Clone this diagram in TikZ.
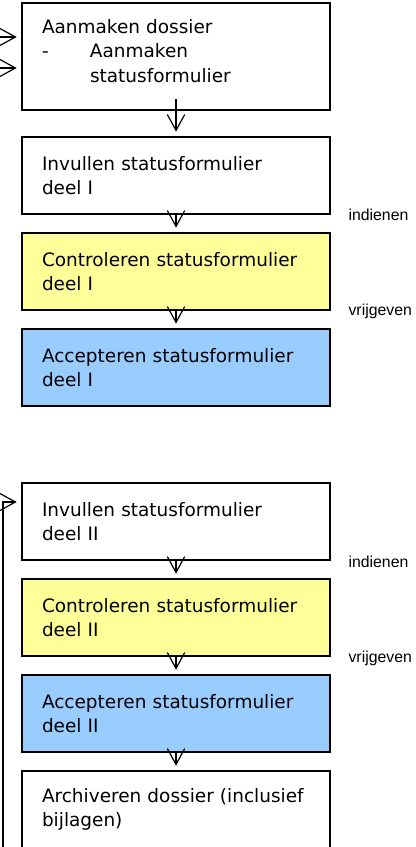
\documentclass[tikz,border=0pt]{standalone}
\usepackage{fontspec}
\setmainfont{DejaVu Sans}
\newfontfamily\notefont{Liberation Sans}
\usetikzlibrary{arrows.meta}
\definecolor{checkyellow}{HTML}{FFFF99}
\definecolor{acceptblue}{HTML}{99CCFF}

\begin{document}
\begin{tikzpicture}
[draw=black, line width=0.9pt, >={Straight Barb[length=4.2mm,width=4.6mm]},
task/.style={rectangle, draw, line width=1.2pt, fill=white, minimum width=8.149cm, minimum height=2.037cm,
  text width=7.091cm, inner xsep=0.529cm, inner ysep=0pt, align=left, font=\fontsize{13.9}{18.6}\selectfont},
note/.style={anchor=west, inner sep=0pt, font=\notefont\fontsize{11.9}{14}\selectfont}]

\useasboundingbox (0,0) rectangle (11.006,-22.410);
\clip (0,0) rectangle (11.006,-22.410);

% deel I
\node[task, minimum height=2.831cm] (task1) at (4.657,-1.495)
  {Aanmaken dossier\\ \makebox[1.27cm][l]{-}Aanmaken\\ \hspace*{1.27cm}statusformulier\\[-10pt]\mbox{}};
\node[task] (task2) at (4.657,-4.643) {Invullen statusformulier\\ deel I}
  edge [<-, shorten <=1.2mm] ([yshift=3.2mm]task1.south);
\node[task, fill=checkyellow] (task3) at (4.657,-7.183) {Controleren statusformulier\\ deel I}
  edge [<-, shorten <=1.2mm] (task2);
\node[task, fill=acceptblue] (task4) at (4.657,-9.723) {Accepteren statusformulier\\ deel I}
  edge [<-, shorten <=1.2mm] (task3);
\node[note] (note1) at (9.207,-5.675) {indienen};
\node[note] (note2) at (9.207,-8.228) {vrijgeven};

% deel II
\node[task] (task5) at (4.657,-13.798) {Invullen statusformulier\\ deel II};
\node[task, fill=checkyellow] (task6) at (4.657,-16.338) {Controleren statusformulier\\ deel II}
  edge [<-, shorten <=1.2mm] (task5);
\node[task, fill=acceptblue] (task7) at (4.657,-18.878) {Accepteren statusformulier\\ deel II}
  edge [<-, shorten <=1.2mm] (task6);
\node[task] (task8) at (4.657,-21.418) {Archiveren dossier (inclusief\\ bijlagen)}
  edge [<-, shorten <=1.2mm] (task7);
\node[note] (note3) at (9.207,-14.856) {indienen};
\node[note] (note4) at (9.207,-17.409) {vrijgeven};

% ingaande pijlen
\coordinate (in1) at (-0.5,-0.979);
\coordinate (in2) at (-0.5,-1.799);
\coordinate (loop) at (0.079,-23);
\draw[->, shorten >=1.2mm] (in1) -- (in1 -| task1.west);
\draw[->, shorten >=1.2mm] (in2) -- (in2 -| task1.west);
\draw[->, shorten >=1.2mm] (loop) |- ([yshift=5.16mm]task5.west);
\end{tikzpicture}
\end{document}
